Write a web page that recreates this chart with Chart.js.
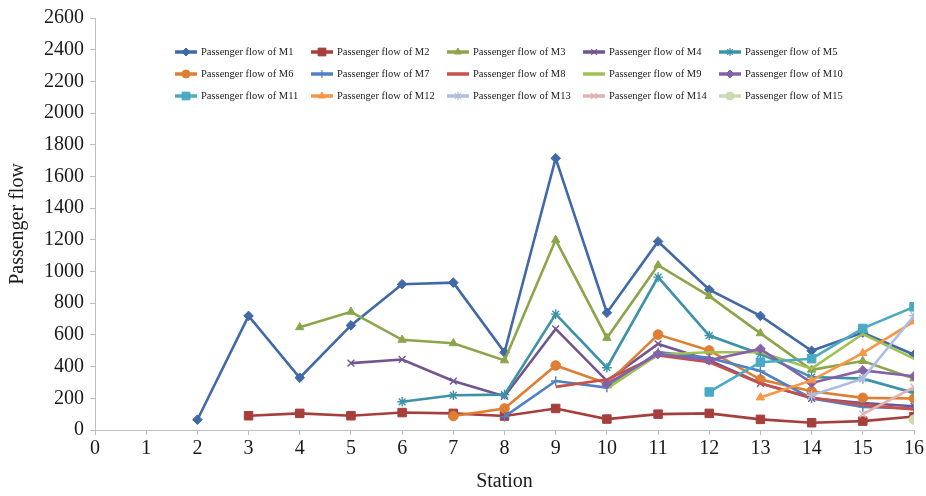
<!DOCTYPE html>
<html>
<head>
<meta charset="utf-8">
<script src="https://cdn.jsdelivr.net/npm/chart.js@4.4.0/dist/chart.umd.min.js"></script>
<style>
  html, body { margin: 0; padding: 0; background: #ffffff; }
  #wrap { position: relative; width: 926px; height: 496px; }
</style>
</head>
<body>
<div id="wrap"><canvas id="c" width="926" height="496"></canvas></div>
<script>
// Stations along the line (x axis) and the y-axis ticks
const stations = [0, 1, 2, 3, 4, 5, 6, 7, 8, 9, 10, 11, 12, 13, 14, 15, 16];
const yTicks = [0, 200, 400, 600, 800, 1000, 1200, 1400, 1600, 1800, 2000, 2200, 2400, 2600];

// Passenger flow per train, indexed by station (null = train not yet running)
const flowM1  = [null, null, 65, 720, 330, 660, 920, 930, 490, 1715, 740, 1190, 885, 720, 500, 615, 475];
const flowM2  = [null, null, null, 90, 105, 90, 110, 105, 88, 136, 69, 100, 105, 67, 46, 56, 85];
const flowM3  = [null, null, null, null, 648, 746, 569, 547, 439, 1200, 581, 1040, 845, 610, 380, 435, 325];
const flowM4  = [null, null, null, null, null, 422, 445, 309, 213, 638, 310, 543, 440, 295, 200, 170, 150];
const flowM5  = [null, null, null, null, null, null, 178, 219, 223, 731, 393, 965, 596, 480, 334, 324, 234];
const flowM6  = [null, null, null, null, null, null, null, 88, 136, 407, 293, 602, 502, 318, 245, 203, 199];
const flowM7  = [null, null, null, null, null, null, null, null, 84, 309, 268, 491, 455, 372, 199, 146, 136];
const flowM8  = [null, null, null, null, null, null, null, null, null, 272, 318, 470, 428, 293, 205, 157, 130];
const flowM9  = [null, null, null, null, null, null, null, null, null, null, 261, 476, 491, 491, 387, 606, 450];
const flowM10 = [null, null, null, null, null, null, null, null, null, null, 290, 480, 440, 512, 297, 376, 339];
const flowM11 = [null, null, null, null, null, null, null, null, null, null, null, null, 240, 428, 450, 641, 777];
const flowM12 = [null, null, null, null, null, null, null, null, null, null, null, null, null, 205, 313, 485, 685];
const flowM13 = [null, null, null, null, null, null, null, null, null, null, null, null, null, null, 219, 324, 721];
const flowM14 = [null, null, null, null, null, null, null, null, null, null, null, null, null, null, null, 100, 270];
const flowM15 = [null, null, null, null, null, null, null, null, null, null, null, null, null, null, null, null, 65];

const seriesNames = [
  'Passenger flow of M1', 'Passenger flow of M2', 'Passenger flow of M3', 'Passenger flow of M4', 'Passenger flow of M5',
  'Passenger flow of M6', 'Passenger flow of M7', 'Passenger flow of M8', 'Passenger flow of M9', 'Passenger flow of M10',
  'Passenger flow of M11', 'Passenger flow of M12', 'Passenger flow of M13', 'Passenger flow of M14', 'Passenger flow of M15'
];
const seriesValues = [flowM1, flowM2, flowM3, flowM4, flowM5, flowM6, flowM7, flowM8,
                      flowM9, flowM10, flowM11, flowM12, flowM13, flowM14, flowM15];

// Line colour and marker for each train
const styles = [
  { color: '#4069a6', marker: 'rectRot' },
  { color: '#a63f3c', marker: 'rect' },
  { color: '#8ca54a', marker: 'triangle' },
  { color: '#71558f', marker: 'crossRot' },
  { color: '#3c93a9', marker: 'star' },
  { color: '#de7e34', marker: 'circle' },
  { color: '#4f81c4', marker: 'cross' },
  { color: '#c8504b', marker: false },
  { color: '#9fc150', marker: false },
  { color: '#8461a8', marker: 'rectRot' },
  { color: '#4aaac6', marker: 'rect' },
  { color: '#f89644', marker: 'triangle' },
  { color: '#aebde0', marker: 'star' },
  { color: '#e3b1b0', marker: 'crossRot' },
  { color: '#c9dbaf', marker: 'circle' }
];

const serif = '"Liberation Serif", "Times New Roman", serif';
const strokeOnly = m => m === 'cross' || m === 'crossRot' || m === 'star';

const datasets = seriesValues.map((vals, i) => {
  const st = styles[i];
  return {
    label: seriesNames[i],
    data: vals.map((v, k) => ({ x: stations[k], y: v })),
    borderColor: st.color,
    backgroundColor: st.color,
    borderWidth: 2.6,
    pointStyle: st.marker,
    pointRadius: st.marker ? (st.marker === 'rect' ? 6 : 4.8) : 0,
    pointBorderWidth: strokeOnly(st.marker) ? 1.4 : 1,
    pointBorderColor: st.color,
    pointBackgroundColor: st.color,
    tension: 0,
    spanGaps: false,
    order: -i
  };
});

// Three-row legend laid out as a grid inside the plot area
const gridLegend = {
  id: 'gridLegend',
  afterDraw(chart) {
    const ctx = chart.ctx;
    const a = chart.chartArea;
    const x0 = a.left + 80, colW = 136, y0 = a.top + 34, rowH = 22;
    ctx.save();
    ctx.font = '10.5px ' + serif;
    ctx.textBaseline = 'middle';
    chart.data.datasets.forEach((ds, i) => {
      const col = i % 5, row = Math.floor(i / 5);
      const x = x0 + col * colW, y = y0 + row * rowH;
      ctx.strokeStyle = ds.borderColor;
      ctx.lineWidth = 3.5;
      ctx.beginPath();
      ctx.moveTo(x, y);
      ctx.lineTo(x + 22, y);
      ctx.stroke();
      if (ds.pointStyle) {
        ctx.fillStyle = ds.borderColor;
        ctx.strokeStyle = ds.borderColor;
        ctx.lineWidth = strokeOnly(ds.pointStyle) ? 1.2 : 1;
        Chart.helpers.drawPoint(ctx, { pointStyle: ds.pointStyle, radius: ds.pointStyle === 'rect' ? 5.5 : 4, rotation: 0, borderWidth: ctx.lineWidth }, x + 11, y);
      }
      ctx.fillStyle = '#1a1a1a';
      ctx.fillText(ds.label, x + 26, y);
    });
    ctx.restore();
  }
};

new Chart(document.getElementById('c'), {
  type: 'line',
  data: { datasets },
  plugins: [gridLegend],
  options: {
    responsive: false,
    animation: false,
    layout: { padding: { left: 0, right: 11, top: 15, bottom: 0 } },
    plugins: { legend: { display: false }, tooltip: { enabled: false } },
    scales: {
      x: {
        type: 'linear',
        min: stations[0],
        max: stations[stations.length - 1],
        afterBuildTicks: s => { s.ticks = stations.map(v => ({ value: v })); },
        afterFit: s => { s.height = 66; },
        grid: { drawOnChartArea: false, tickLength: 5, color: '#bfbfbf', tickColor: '#bfbfbf' },
        border: { color: '#bfbfbf', width: 1 },
        ticks: { padding: 2, color: '#1a1a1a', font: { family: serif, size: 20 }, maxRotation: 0, autoSkip: false,
                 callback: v => String(v) },
        title: { display: true, text: 'Station', color: '#1a1a1a', font: { family: serif, size: 20 }, padding: { top: 2, bottom: 2 } }
      },
      y: {
        min: yTicks[0],
        max: yTicks[yTicks.length - 1],
        afterBuildTicks: s => { s.ticks = yTicks.map(v => ({ value: v })); },
        afterFit: s => { s.width = 95; },
        grid: { drawOnChartArea: false, tickLength: 5, color: '#bfbfbf', tickColor: '#bfbfbf' },
        border: { color: '#bfbfbf', width: 1 },
        ticks: { padding: 6, color: '#1a1a1a', font: { family: serif, size: 20 }, callback: v => String(v) },
        title: { display: true, text: 'Passenger flow', color: '#1a1a1a', font: { family: serif, size: 20 }, padding: { top: 6, bottom: 6 } }
      }
    }
  }
});
</script>
</body>
</html>
